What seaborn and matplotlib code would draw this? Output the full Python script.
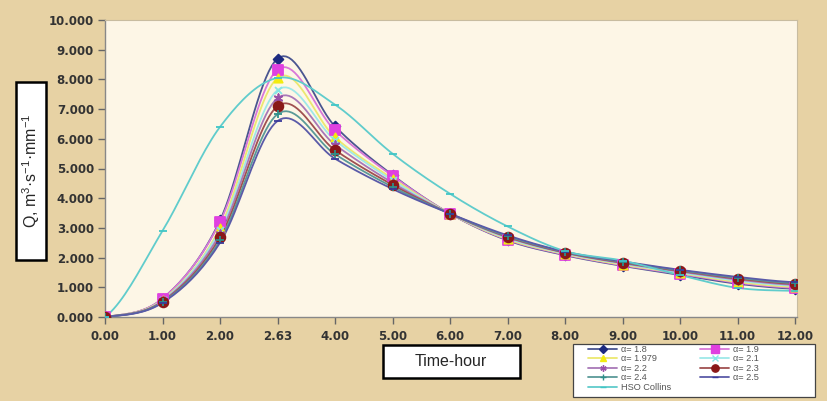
import numpy as np
import pandas as pd
import matplotlib
matplotlib.use("Agg")
import matplotlib.pyplot as plt
from matplotlib.lines import Line2D
from matplotlib.patches import Rectangle
import seaborn as sns

# ---- data ----
x_labels = ["0.00", "1.00", "2.00", "2.63", "4.00", "5.00", "6.00", "7.00",
            "8.00", "9.00", "10.00", "11.00", "12.00"]
a18   = [0.0, 0.62, 3.25, 8.70, 6.42, 4.78, 3.48, 2.58, 2.08, 1.72, 1.42, 1.12, 0.95]
a19   = [0.0, 0.62, 3.20, 8.33, 6.28, 4.75, 3.48, 2.60, 2.10, 1.74, 1.45, 1.15, 0.98]
a1979 = [0.0, 0.58, 3.00, 8.05, 6.05, 4.66, 3.48, 2.62, 2.12, 1.76, 1.48, 1.18, 1.01]
a21   = [0.0, 0.56, 2.92, 7.64, 5.95, 4.60, 3.48, 2.65, 2.14, 1.79, 1.50, 1.22, 1.05]
a22   = [0.0, 0.54, 2.80, 7.37, 5.80, 4.52, 3.48, 2.68, 2.16, 1.81, 1.53, 1.26, 1.08]
a23   = [0.0, 0.52, 2.68, 7.10, 5.62, 4.45, 3.48, 2.70, 2.17, 1.83, 1.55, 1.29, 1.11]
a24   = [0.0, 0.50, 2.58, 6.83, 5.48, 4.38, 3.48, 2.72, 2.19, 1.85, 1.57, 1.32, 1.14]
a25   = [0.0, 0.48, 2.50, 6.60, 5.33, 4.31, 3.48, 2.75, 2.20, 1.87, 1.59, 1.35, 1.17]
hso   = [0.0, 2.90, 6.40, 8.05, 7.15, 5.50, 4.15, 3.05, 2.22, 1.90, 1.41, 0.98, 0.88]

series_names = ["α= 1.8", "α= 1.9", "α= 1.979", "α= 2.1", "α= 2.2",
                "α= 2.3", "α= 2.4", "α= 2.5", "HSO Collins"]
series_vals = [a18, a19, a1979, a21, a22, a23, a24, a25, hso]
y_ticks = [0, 1, 2, 3, 4, 5, 6, 7, 8, 9, 10]

# ---- styles ----
colors = ["#1c2a80", "#e040e0", "#f2ec10", "#86e6e6", "#9a50a8",
          "#8a1818", "#2f8f8a", "#3a3a9a", "#40c6c6"]
line_colors = ["#4a5590", "#d878d8", "#ece870", "#9ee8e8", "#a878b8",
               "#a05050", "#5a9a98", "#5a5aa8", "#60cccc"]
asterisk = (6, 2, 0)
markers = ["D", "s", "^", "x", asterisk, "o", "+", "_", "_"]
msizes = [5, 7, 6, 5, 6, 7, 6, 6, 6]


def catmull_rom(xs, ys, n=20):
    xs = np.asarray(xs, float)
    ys = np.asarray(ys, float)
    px = np.concatenate([[2 * xs[0] - xs[1]], xs, [2 * xs[-1] - xs[-2]]])
    py = np.concatenate([[ys[0]], ys, [ys[-1]]])
    ox, oy = [], []
    for i in range(1, len(px) - 2):
        t = np.linspace(0, 1, n, endpoint=False)
        t2, t3 = t * t, t * t * t
        for p, out in ((px, ox), (py, oy)):
            p0, p1, p2, p3 = p[i - 1], p[i], p[i + 1], p[i + 2]
            out.extend(0.5 * ((2 * p1) + (-p0 + p2) * t +
                              (2 * p0 - 5 * p1 + 4 * p2 - p3) * t2 +
                              (-p0 + 3 * p1 - 3 * p2 + p3) * t3))
    ox.append(xs[-1])
    oy.append(ys[-1])
    return np.array(ox), np.array(oy)


sns.set_theme(style="white")
plt.rcParams["font.family"] = ["DejaVu Sans"]
plt.rcParams["mathtext.default"] = "regular"

fig = plt.figure(figsize=(8.27, 4.01), dpi=100)
fig.patch.set_facecolor("#e7d2a4")
ax = fig.add_axes([105 / 827, 1 - 317 / 401, (797 - 105) / 827, (317 - 20) / 401])
ax.set_facecolor("#fdf6e6")

xpos = np.arange(len(x_labels))
for name, vals, lc, mc, mk, ms in zip(series_names, series_vals, line_colors,
                                      colors, markers, msizes):
    sx, sy = catmull_rom(xpos, vals)
    df = pd.DataFrame({"x": sx, "y": sy})
    sns.lineplot(data=df, x="x", y="y", ax=ax, color=lc, lw=1.3,
                 sort=False, estimator=None, zorder=2)
    dm = pd.DataFrame({"x": xpos, "y": vals})
    sns.scatterplot(data=dm, x="x", y="y", ax=ax, marker=mk, s=ms ** 2,
                    color=mc, edgecolor=mc, linewidth=1.3, zorder=3)

ax.set_xlim(0, 12 * (797 - 105) / (795 - 105))
ax.set_ylim(0, 10)
ax.set_xticks(xpos)
ax.set_xticklabels(x_labels)
ax.set_yticks(y_ticks)
ax.set_yticklabels([f"{v:.3f}" for v in y_ticks])
ax.set_xlabel("")
ax.set_ylabel("")
for lab in ax.get_xticklabels() + ax.get_yticklabels():
    lab.set_fontweight("bold")
    lab.set_fontsize(8.5)
    lab.set_color("#333333")
ax.tick_params(axis="both", which="both", direction="out", length=5,
               width=1, color="#666666", left=True, bottom=True, pad=3)
ax.tick_params(axis="x", pad=4)
for s in ["left", "bottom"]:
    ax.spines[s].set_color("#888888")
    ax.spines[s].set_linewidth(1.0)
for s in ["top", "right"]:
    ax.spines[s].set_color("#c8bca0")
    ax.spines[s].set_linewidth(0.8)

# y label box
fig.patches.append(Rectangle((16 / 827, 1 - 260 / 401), 30 / 827, 178 / 401,
                             transform=fig.transFigure, facecolor="white",
                             edgecolor="black", lw=1.8, zorder=5))
fig.text(31 / 827, 1 - 171 / 401, r"Q, m$^{3}$·s$^{-1}$·mm$^{-1}$",
         rotation=90, ha="center", va="center", fontsize=11.5,
         family="Liberation Sans", zorder=6)

# x label box
fig.patches.append(Rectangle((383 / 827, 1 - 378 / 401), 137 / 827, 33 / 401,
                             transform=fig.transFigure, facecolor="white",
                             edgecolor="black", lw=1.8, zorder=5))
fig.text(451 / 827, 1 - 362 / 401, "Time-hour", ha="center", va="center",
         fontsize=11.5, family="Liberation Sans", zorder=6)

# legend frame
fig.patches.append(Rectangle((573 / 827, 1 - 397 / 401), 242 / 827, 53 / 401,
                             transform=fig.transFigure, facecolor="white",
                             edgecolor="#444444", lw=0.9, zorder=4))
handles = [Line2D([0], [0], color=lc, marker=mk, markersize=ms * 0.75,
                  markerfacecolor=mc, markeredgecolor=mc, lw=1.3)
           for lc, mc, mk, ms in zip(line_colors, colors, markers, msizes)]
order = [0, 2, 4, 6, 8, 1, 3, 5, 7]
leg = fig.legend([handles[i] for i in order], [series_names[i] for i in order],
                 loc="upper left", bbox_to_anchor=(588 / 827, 1 - 345 / 401),
                 ncol=2, fontsize=6.6, frameon=False,
                 borderpad=0.0, labelspacing=0.05, handlelength=3.2,
                 handletextpad=0.35, columnspacing=3.2, borderaxespad=0)
leg.set_zorder(6)
for t in leg.get_texts():
    t.set_color("#555555")
    t.set_family("Liberation Sans")

fig.savefig("out.png", dpi=100, facecolor=fig.get_facecolor())
